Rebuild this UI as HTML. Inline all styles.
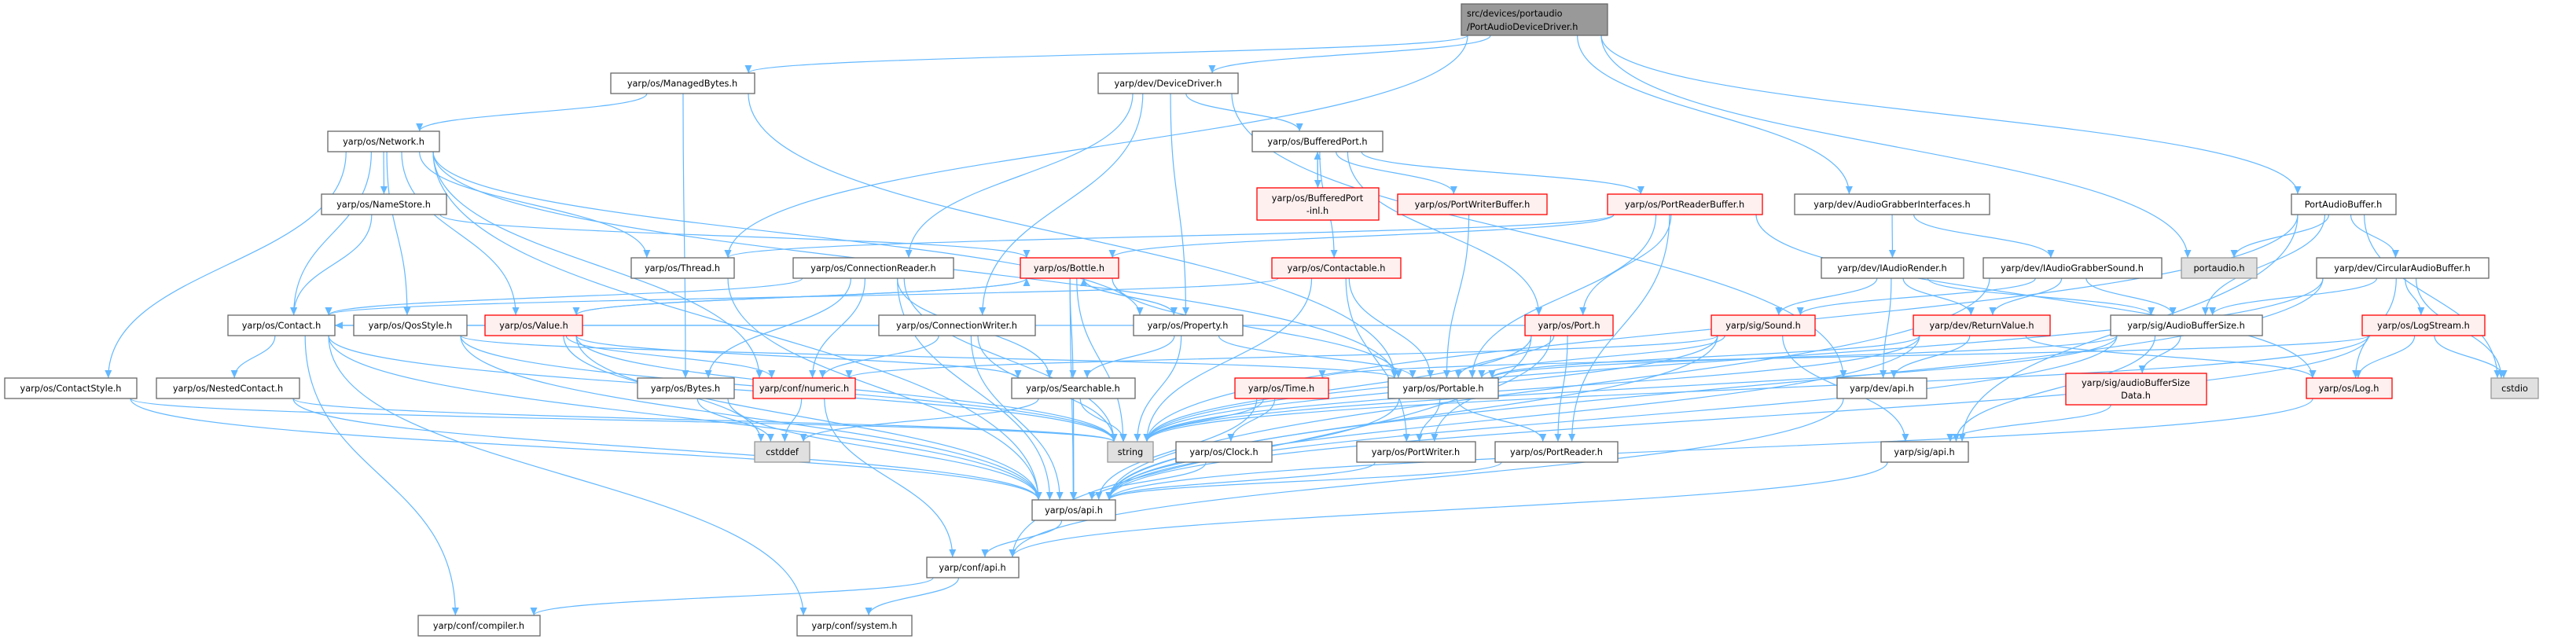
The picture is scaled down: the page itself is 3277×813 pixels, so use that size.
<!DOCTYPE html>
<html><head><meta charset="utf-8"><style>
html,body{margin:0;padding:0;background:#fff;}
svg{display:block;}
text{font-family:"DejaVu Sans","Liberation Sans",sans-serif;font-size:11.3px;fill:#000;}
.w rect{fill:#fff;stroke:#666;stroke-width:1.3;}
.r rect{fill:#fff0f0;stroke:#f00;stroke-width:1.3;}
.g rect{fill:#e0e0e0;stroke:#999;stroke-width:1.3;}
.d rect{fill:#999;stroke:#666;stroke-width:1.3;}
#edges path{fill:none;stroke:#63b8ff;stroke-width:1.2;}
</style></head><body>
<svg id="s" width="3277" height="813" viewBox="0 0 3277 813" xmlns="http://www.w3.org/2000/svg">
<defs><marker id="a" markerUnits="userSpaceOnUse" markerWidth="11" markerHeight="9" refX="10" refY="4.5" orient="auto"><path d="M0,0 L10,4.5 L0,9 z" fill="#63b8ff"/></marker></defs>
<g id="edges"></g>
<g id="nodes">
<g class="d"><rect id="r_top" x="1859" y="5" width="186" height="40"/><text x="1866" y="21">src/devices/portaudio</text><text x="1866" y="38">/PortAudioDeviceDriver.h</text></g>
<g class="w"><rect id="r_mb" x="777" y="93" width="183" height="26"/><text x="868" y="110" text-anchor="middle">yarp/os/ManagedBytes.h</text></g>
<g class="w"><rect id="r_dd" x="1397" y="93" width="178" height="26"/><text x="1486" y="110" text-anchor="middle">yarp/dev/DeviceDriver.h</text></g>
<g class="w"><rect id="r_net" x="417" y="167" width="142" height="26"/><text x="488" y="184" text-anchor="middle">yarp/os/Network.h</text></g>
<g class="w"><rect id="r_bp" x="1593" y="167" width="166" height="26"/><text x="1676" y="184" text-anchor="middle">yarp/os/BufferedPort.h</text></g>
<g class="w"><rect id="r_ns" x="409" y="247" width="159" height="26"/><text x="488" y="264" text-anchor="middle">yarp/os/NameStore.h</text></g>
<g class="r"><rect id="r_bpi" x="1599" y="239" width="155" height="41"/><text x="1676" y="256" text-anchor="middle">yarp/os/BufferedPort</text><text x="1676" y="272" text-anchor="middle">-inl.h</text></g>
<g class="r"><rect id="r_pwb" x="1778" y="247" width="190" height="26"/><text x="1873" y="264" text-anchor="middle">yarp/os/PortWriterBuffer.h</text></g>
<g class="r"><rect id="r_prb" x="2045" y="247" width="197" height="26"/><text x="2143" y="264" text-anchor="middle">yarp/os/PortReaderBuffer.h</text></g>
<g class="w"><rect id="r_agi" x="2283" y="247" width="248" height="26"/><text x="2407" y="264" text-anchor="middle">yarp/dev/AudioGrabberInterfaces.h</text></g>
<g class="w"><rect id="r_pab" x="2915" y="247" width="133" height="26"/><text x="2981" y="264" text-anchor="middle">PortAudioBuffer.h</text></g>
<g class="w"><rect id="r_th" x="803" y="328" width="131" height="26"/><text x="868" y="345" text-anchor="middle">yarp/os/Thread.h</text></g>
<g class="w"><rect id="r_cr" x="1009" y="328" width="204" height="26"/><text x="1111" y="345" text-anchor="middle">yarp/os/ConnectionReader.h</text></g>
<g class="r"><rect id="r_bot" x="1298" y="328" width="125" height="26"/><text x="1360" y="345" text-anchor="middle">yarp/os/Bottle.h</text></g>
<g class="r"><rect id="r_ctb" x="1618" y="328" width="164" height="26"/><text x="1700" y="345" text-anchor="middle">yarp/os/Contactable.h</text></g>
<g class="w"><rect id="r_iar" x="2317" y="328" width="181" height="26"/><text x="2407" y="345" text-anchor="middle">yarp/dev/IAudioRender.h</text></g>
<g class="w"><rect id="r_iag" x="2523" y="328" width="227" height="26"/><text x="2636" y="345" text-anchor="middle">yarp/dev/IAudioGrabberSound.h</text></g>
<g class="g"><rect id="r_pa" x="2775" y="328" width="96" height="26"/><text x="2823" y="345" text-anchor="middle">portaudio.h</text></g>
<g class="w"><rect id="r_cab" x="2947" y="328" width="219" height="26"/><text x="3056" y="345" text-anchor="middle">yarp/dev/CircularAudioBuffer.h</text></g>
<g class="w"><rect id="r_con" x="290" y="401" width="136" height="26"/><text x="358" y="418" text-anchor="middle">yarp/os/Contact.h</text></g>
<g class="w"><rect id="r_qos" x="450" y="401" width="144" height="26"/><text x="522" y="418" text-anchor="middle">yarp/os/QosStyle.h</text></g>
<g class="r"><rect id="r_val" x="617" y="401" width="124" height="26"/><text x="679" y="418" text-anchor="middle">yarp/os/Value.h</text></g>
<g class="w"><rect id="r_cw" x="1118" y="401" width="199" height="26"/><text x="1217" y="418" text-anchor="middle">yarp/os/ConnectionWriter.h</text></g>
<g class="w"><rect id="r_prop" x="1442" y="401" width="139" height="26"/><text x="1511" y="418" text-anchor="middle">yarp/os/Property.h</text></g>
<g class="r"><rect id="r_port" x="1940" y="401" width="112" height="26"/><text x="1996" y="418" text-anchor="middle">yarp/os/Port.h</text></g>
<g class="r"><rect id="r_snd" x="2177" y="401" width="132" height="26"/><text x="2243" y="418" text-anchor="middle">yarp/sig/Sound.h</text></g>
<g class="r"><rect id="r_rv" x="2434" y="401" width="174" height="26"/><text x="2521" y="418" text-anchor="middle">yarp/dev/ReturnValue.h</text></g>
<g class="w"><rect id="r_abs" x="2685" y="401" width="193" height="26"/><text x="2781" y="418" text-anchor="middle">yarp/sig/AudioBufferSize.h</text></g>
<g class="r"><rect id="r_ls" x="3005" y="401" width="156" height="26"/><text x="3083" y="418" text-anchor="middle">yarp/os/LogStream.h</text></g>
<g class="w"><rect id="r_cs" x="6" y="481" width="168" height="26"/><text x="90" y="498" text-anchor="middle">yarp/os/ContactStyle.h</text></g>
<g class="w"><rect id="r_nc" x="199" y="481" width="182" height="26"/><text x="290" y="498" text-anchor="middle">yarp/os/NestedContact.h</text></g>
<g class="w"><rect id="r_by" x="811" y="481" width="123" height="26"/><text x="872" y="498" text-anchor="middle">yarp/os/Bytes.h</text></g>
<g class="r"><rect id="r_num" x="958" y="481" width="130" height="26"/><text x="1023" y="498" text-anchor="middle">yarp/conf/numeric.h</text></g>
<g class="w"><rect id="r_srch" x="1287" y="481" width="157" height="26"/><text x="1365" y="498" text-anchor="middle">yarp/os/Searchable.h</text></g>
<g class="r"><rect id="r_tm" x="1571" y="481" width="119" height="26"/><text x="1630" y="498" text-anchor="middle">yarp/os/Time.h</text></g>
<g class="w"><rect id="r_ptb" x="1766" y="481" width="140" height="26"/><text x="1836" y="498" text-anchor="middle">yarp/os/Portable.h</text></g>
<g class="w"><rect id="r_dapi" x="2337" y="481" width="114" height="26"/><text x="2394" y="498" text-anchor="middle">yarp/dev/api.h</text></g>
<g class="r"><rect id="r_absd" x="2628" y="475" width="179" height="40"/><text x="2717" y="491" text-anchor="middle">yarp/sig/audioBufferSize</text><text x="2717" y="507" text-anchor="middle">Data.h</text></g>
<g class="r"><rect id="r_log" x="2934" y="481" width="109" height="26"/><text x="2988" y="498" text-anchor="middle">yarp/os/Log.h</text></g>
<g class="g"><rect id="r_cstdio" x="3169" y="481" width="60" height="26"/><text x="3199" y="498" text-anchor="middle">cstdio</text></g>
<g class="g"><rect id="r_cstddef" x="960" y="562" width="70" height="26"/><text x="995" y="579" text-anchor="middle">cstddef</text></g>
<g class="g"><rect id="r_str" x="1409" y="562" width="58" height="26"/><text x="1438" y="579" text-anchor="middle">string</text></g>
<g class="w"><rect id="r_clk" x="1496" y="562" width="122" height="26"/><text x="1557" y="579" text-anchor="middle">yarp/os/Clock.h</text></g>
<g class="w"><rect id="r_pw" x="1726" y="562" width="151" height="26"/><text x="1801" y="579" text-anchor="middle">yarp/os/PortWriter.h</text></g>
<g class="w"><rect id="r_pr" x="1902" y="562" width="156" height="26"/><text x="1980" y="579" text-anchor="middle">yarp/os/PortReader.h</text></g>
<g class="w"><rect id="r_sapi" x="2393" y="562" width="111" height="26"/><text x="2448" y="579" text-anchor="middle">yarp/sig/api.h</text></g>
<g class="w"><rect id="r_api" x="1313" y="636" width="106" height="26"/><text x="1366" y="653" text-anchor="middle">yarp/os/api.h</text></g>
<g class="w"><rect id="r_capi" x="1179" y="709" width="117" height="26"/><text x="1237" y="726" text-anchor="middle">yarp/conf/api.h</text></g>
<g class="w"><rect id="r_comp" x="532" y="783" width="155" height="26"/><text x="609" y="800" text-anchor="middle">yarp/conf/compiler.h</text></g>
<g class="w"><rect id="r_sys" x="1014" y="783" width="146" height="26"/><text x="1087" y="800" text-anchor="middle">yarp/conf/system.h</text></g>
</g>
</svg>
<script>
var E="top>mb top>th top>dd top>agi top>pa top>pab mb>net mb>by mb>ptb net>ns net>con net>qos net>val net>cs net>th net>ptb net>num net>prop net>api ns>con ns>bot con>nc con>comp con>sys con>str con>api cs>str cs>api nc>str nc>api qos>str qos>api qos>ptb val>num val>cstddef val>str val>api val>srch val>bot by>cstddef by>api num>cstddef num>capi th>api cr>con cr>by cr>num cr>str cr>api cr>srch dd>cr dd>cw dd>prop dd>bp dd>dapi bp>bpi bpi>bp bp>pwb bp>prb bp>port bp>ctb pwb>ptb prb>bot prb>th prb>port prb>pr prb>ptb prb>log ctb>ptb ctb>str ctb>pw ctb>con bot>val bot>prop bot>srch bot>ptb bot>str bot>api prop>bot prop>srch prop>str prop>ptb cw>num cw>str cw>api cw>con port>ptb port>pw port>pr port>str port>capi port>con srch>cstddef srch>api srch>str tm>str tm>clk tm>api clk>api ptb>api ptb>pw ptb>pr pw>api pr>api api>capi capi>comp capi>sys agi>iar agi>iag iar>snd iar>rv iar>abs iar>dapi iag>snd iag>rv iag>abs iag>api pab>pa pab>abs pab>cab pab>cstdio pab>sapi pab>str cab>abs cab>ls cab>log cab>cstdio cab>str cab>api snd>num snd>ptb snd>str snd>sapi snd>api rv>dapi rv>ptb rv>str rv>log rv>api abs>absd abs>ptb abs>str abs>sapi abs>api ls>log ls>cstdio ls>str ls>api ls>tm log>api dapi>capi sapi>capi absd>sapi".split(" ");
var g=document.getElementById("edges");
function bb(id){var r=document.getElementById("r_"+id);return{x:+r.getAttribute("x"),y:+r.getAttribute("y"),w:+r.getAttribute("width"),h:+r.getAttribute("height")};}
E.forEach(function(e){var p=e.split(">"),s=bb(p[0]),t=bb(p[1]);
var scx=s.x+s.w/2,tcx=t.x+t.w/2,sx,sy,ex,ey,d;
if(t.y>=s.y+s.h-2){sx=scx+Math.max(-s.w/2+8,Math.min(s.w/2-8,(tcx-scx)*0.12));sy=s.y+s.h;ex=tcx+Math.max(-t.w/2+8,Math.min(t.w/2-8,(scx-tcx)*0.12));ey=t.y;}
else if(t.y+t.h<=s.y+2){sx=scx+Math.max(-s.w/2+8,Math.min(s.w/2-8,(tcx-scx)*0.12));sy=s.y;ex=tcx+Math.max(-t.w/2+8,Math.min(t.w/2-8,(scx-tcx)*0.12));ey=t.y+t.h;}
else{sy=s.y+s.h/2;ey=t.y+t.h/2;if(tcx>scx){sx=s.x+s.w;ex=t.x;}else{sx=s.x;ex=t.x+t.w;}
d="M"+sx+","+sy+" C"+((sx+ex)/2)+","+sy+" "+((sx+ex)/2)+","+ey+" "+ex+","+ey;}
if(!d){var dy=(ey-sy)*0.5;d="M"+sx+","+sy+" C"+sx+","+(sy+dy)+" "+ex+","+(ey-dy)+" "+ex+","+ey;}
var pa=document.createElementNS("http://www.w3.org/2000/svg","path");pa.setAttribute("d",d);pa.setAttribute("marker-end","url(#a)");g.appendChild(pa);});
</script>
</body></html>
